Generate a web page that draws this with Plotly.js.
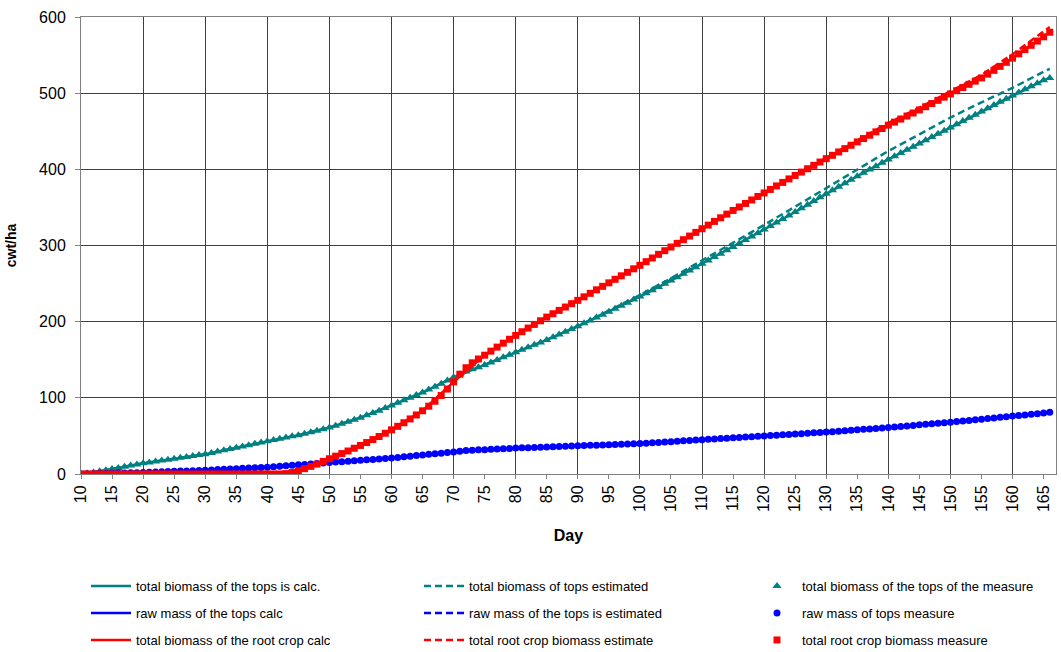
<!DOCTYPE html>
<html>
<head>
<meta charset="utf-8">
<script src="https://cdn.plot.ly/plotly-3.0.1.min.js"></script>
<style>html,body{margin:0;padding:0;background:#fff;}#chart{width:1061px;height:652px;}</style>
</head>
<body>
<div id="chart"></div>
<script>
// Day categories for the daily measurements (10 .. 166)
const days = [];
for (let d = 10; d <= 166; d++) days.push(d);

// Days at which calculated / estimated curves are sampled
const lineDays = [10,15,20,25,30,35,40,45,50,55,60,65,70,75,80,85,90,95,100,105,110,115,120,125,130,135,140,145,150,155,160,165,166];

const topsTotalCalc = [0,6.5,14,20,26,34.5,43,51,61,74,90,107,127,143,160,176,194,213,233,254,276,298,321,344,368,391,413,434,455,476,497,517,520];
const topsTotalEst  = [0,6.5,14,20,26,34.5,43,51,61,74,90,107,127,143,160,176,194,214,235,257,280,303,327,351,375,400,424,446,468,488,507,528,532];
const topsRawCalc   = [0,1,2,3.5,5,7,9,12,15,18,21,25,29,32,34,35.5,37,38.5,40,42.5,45,47.5,50,52.5,55,58,61,64.5,68,72,76,80,81];
const topsRawEst    = [0,1,2,3.5,5,7,9,12,15,18,21,25,29,32,34,35.5,37,38.5,40,42.5,45,47.5,50,52.5,55,58,61,64.5,68,72,76,80,81];
const rootCalc      = [0,0,0,0,0,0,0,4,20,37.5,58,83,121,156,182,206,228,251,274,298,322,346,369,392,414,436,458,478,499,520,546,574,580];
const rootEst       = [0,0,0,0,0,0,0,4,20,37.5,58,83,121,156,182,206,228,251,274,298,322,346,369,392,415,438,461,481,502,524,551,582,587];

// Daily measurements
const topsTotalMeas = [
  0,0.7,2,3.5,5,6.5,8,9.5,11,12.5,14,
  15.2,16.4,17.6,18.8,20,21.2,22.4,23.6,24.8,26,
  27.7,29.4,31.1,32.8,34.5,36.2,37.9,39.6,41.3,43,
  44.6,46.2,47.8,49.4,51,52.9,54.8,56.8,58.9,61,
  63.5,66,68.5,71.2,74,77,80,83.2,86.5,90,
  93.4,96.8,100.2,103.6,107,110.8,114.6,118.6,122.8,127,
  131,134.5,137.5,140.3,143,146.4,149.8,153.2,156.6,160,
  163.2,166.4,169.6,172.8,176,179.6,183.2,186.8,190.4,194,
  197.8,201.6,205.4,209.2,213,217,221,225,229,233,
  237.2,241.4,245.6,249.8,254,258.4,262.8,267.2,271.6,276,
  280.4,284.8,289.2,293.6,298,302.6,307.2,311.8,316.4,321,
  325.6,330.2,334.8,339.4,344,348.8,353.6,358.4,363.2,368,
  372.6,377.2,381.8,386.4,391,395.4,399.8,404.2,408.6,413,
  417.2,421.4,425.6,429.8,434,438.2,442.4,446.6,450.8,455,
  459.2,463.4,467.6,471.8,476,480.2,484.4,488.6,492.8,497,
  501,505,509,513,517,520
];
const topsRawMeas = [
  0,0.2,0.4,0.6,0.8,1.0,1.2,1.4,1.6,1.8,2,
  2.3,2.6,2.9,3.2,3.5,3.8,4.1,4.4,4.7,5,
  5.4,5.8,6.2,6.6,7,7.4,7.8,8.2,8.6,9,
  9.6,10.2,10.8,11.4,12,12.6,13.2,13.8,14.4,15,
  15.6,16.2,16.8,17.4,18,18.6,19.2,19.8,20.4,21,
  21.8,22.6,23.4,24.2,25,25.8,26.6,27.4,28.2,29,
  30,30.8,31.3,31.7,32,32.4,32.8,33.2,33.6,34,
  34.3,34.6,34.9,35.2,35.5,35.8,36.1,36.4,36.7,37,
  37.3,37.6,37.9,38.2,38.5,38.8,39.1,39.4,39.7,40,
  40.5,41,41.5,42,42.5,43,43.5,44,44.5,45,
  45.5,46,46.5,47,47.5,48,48.5,49,49.5,50,
  50.5,51,51.5,52,52.5,53,53.5,54,54.5,55,
  55.6,56.2,56.8,57.4,58,58.6,59.2,59.8,60.4,61,
  61.7,62.4,63.1,63.8,64.5,65.2,65.9,66.6,67.3,68,
  68.8,69.6,70.4,71.2,72,72.8,73.6,74.4,75.2,76,
  76.8,77.6,78.4,79.2,80,81
];
const rootMeas = [
  0,0,0,0,0,0,0,0,0,0,0,
  0,0,0,0,0,0,0,0,0,0,
  0,0,0,0,0,0,0,0,0,0,
  0,0,
  0.5,2,4,7,10,13,16.5,20,
  23.4,26.8,30.2,33.8,37.5,41.3,45.2,49.2,53.5,58,
  62.6,67.3,72.3,77.5,83,89,95.5,103,111.5,121,
  131,139.5,146,151,156,161.3,166.6,171.8,176.9,182,
  186.8,191.6,196.4,201.2,206,210.4,214.8,219.2,223.6,228,
  232.6,237.2,241.8,246.4,251,255.6,260.2,264.8,269.4,274,
  278.8,283.6,288.4,293.2,298,302.8,307.6,312.4,317.2,322,
  326.8,331.6,336.4,341.2,346,350.6,355.2,359.8,364.4,369,
  373.6,378.2,382.8,387.4,392,396.4,400.8,405.2,409.6,414,
  418.4,422.8,427.2,431.6,436,440.4,444.8,449.2,453.6,458,
  462,466,470,474,478,482.2,486.4,490.6,494.8,499,
  503.2,507.4,511.6,515.8,520,525,530,535.2,540.5,546,
  551.6,557.2,562.8,568.4,574,580
];

const xTicks = [10,15,20,25,30,35,40,45,50,55,60,65,70,75,80,85,90,95,100,105,110,115,120,125,130,135,140,145,150,155,160,165];

const TEAL = '#008080', BLUE = '#0000ff', RED = '#ff0000';
const DASH = '7px,4px';

function lineTrace(name, y, color, dash, legend) {
  return {x: lineDays, y: y, name: name, type: 'scatter', mode: 'lines',
    line: {color: color, width: 2.5, dash: dash}, legend: legend};
}
function markTrace(name, y, color, symbol, size, legend) {
  return {x: days, y: y, name: name, type: 'scatter', mode: 'markers',
    marker: {color: color, symbol: symbol, size: size}, legend: legend};
}

const traces = [
  lineTrace('total biomass of the tops is calc.', topsTotalCalc, TEAL, 'solid', 'legend'),
  lineTrace('total biomass of tops estimated', topsTotalEst, TEAL, DASH, 'legend2'),
  markTrace('total biomass of the tops of the measure', topsTotalMeas, TEAL, 'triangle-up', 8, 'legend3'),
  lineTrace('raw mass of the tops calc', topsRawCalc, BLUE, 'solid', 'legend4'),
  lineTrace('raw mass of the tops is estimated', topsRawEst, BLUE, DASH, 'legend5'),
  markTrace('raw mass of tops measure', topsRawMeas, BLUE, 'circle', 7, 'legend6'),
  lineTrace('total biomass of the root crop calc', rootCalc, RED, 'solid', 'legend7'),
  lineTrace('total root crop biomass estimate', rootEst, RED, DASH, 'legend8'),
  markTrace('total root crop biomass measure', rootMeas, RED, 'square', 7, 'legend9'),
  // carrier for the 10-day grid axis
  {x: [10, 167], y: [null, null], xaxis: 'x2', type: 'scatter', mode: 'lines', showlegend: false, hoverinfo: 'skip'}
];

const FONT = 'Liberation Sans, Arial, sans-serif';
const colX = [86, 419, 752];
const rowTop = [571, 598, 625];
function legendCell(col, row) {
  return {xref: 'container', yref: 'container', x: colX[col] / 1061, y: 1 - rowTop[row] / 652,
    xanchor: 'left', yanchor: 'top', orientation: 'h',
    font: {family: FONT, size: 13, color: '#000'}, bgcolor: 'rgba(0,0,0,0)', itemwidth: 40};
}

const layout = {
  width: 1061, height: 652,
  margin: {l: 81, r: 5, t: 17, b: 178},
  paper_bgcolor: '#fff', plot_bgcolor: '#fff',
  font: {family: FONT, color: '#000'},
  xaxis: {
    range: [10, 167], tickvals: xTicks, ticktext: xTicks.map(String), tickangle: -90,
    showgrid: false, zeroline: false,
    showline: true, linecolor: '#808080', linewidth: 1, mirror: true,
    ticks: 'outside', ticklen: 4, tickcolor: '#808080',
    tickfont: {family: FONT, size: 16, color: '#000'},
    title: {text: 'Day', font: {family: FONT, size: 16, color: '#000', weight: 'bold'}, standoff: 18}
  },
  xaxis2: {
    overlaying: 'x', anchor: 'y', range: [10, 167], dtick: 10, tick0: 10,
    showgrid: true, gridcolor: '#404040', gridwidth: 1, showticklabels: false,
    ticks: '', zeroline: false, showline: false
  },
  yaxis: {
    range: [0, 600], dtick: 100, showgrid: true, gridcolor: '#404040', gridwidth: 1,
    zeroline: false, showline: true, linecolor: '#808080', linewidth: 1, mirror: true,
    ticks: 'outside', ticklen: 5, tickcolor: '#808080', ticklabelstandoff: 6,
    tickfont: {family: FONT, size: 16, color: '#000'},
    title: {text: 'cwt/ha', font: {family: FONT, size: 14, color: '#000', weight: 'bold'}, standoff: 19}
  },
  showlegend: true,
  legend:  legendCell(0, 0),
  legend2: legendCell(1, 0),
  legend3: legendCell(2, 0),
  legend4: legendCell(0, 1),
  legend5: legendCell(1, 1),
  legend6: legendCell(2, 1),
  legend7: legendCell(0, 2),
  legend8: legendCell(1, 2),
  legend9: legendCell(2, 2)
};

Plotly.newPlot('chart', traces, layout, {displayModeBar: false, staticPlot: true});
</script>
</body>
</html>
